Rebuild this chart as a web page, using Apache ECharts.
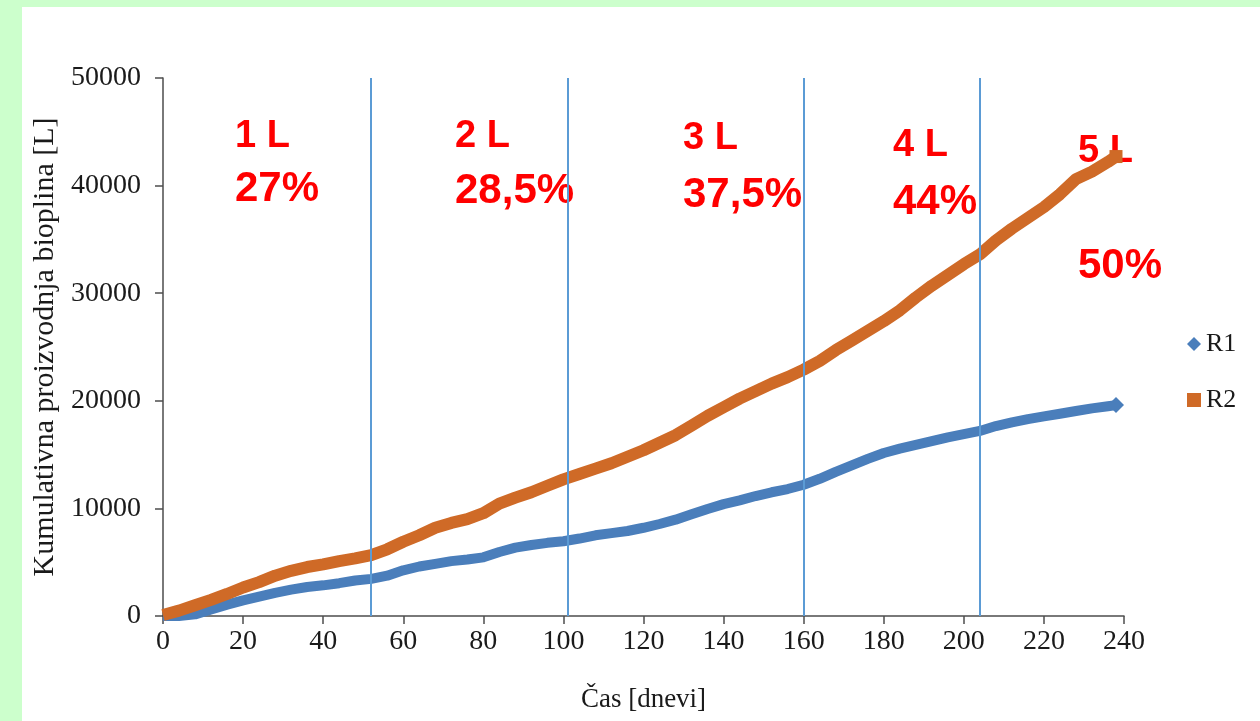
<!DOCTYPE html>
<html>
<head>
<meta charset="utf-8">
<script src="https://cdn.jsdelivr.net/npm/echarts@6/dist/echarts.min.js"></script>
<style>
  html, body { margin: 0; padding: 0; width: 1260px; height: 721px; background: #ccffcc; overflow: hidden; }
  #chart { position: absolute; left: 22px; top: 7px; width: 1238px; height: 714px; background: #ffffff; }
</style>
</head>
<body>
<div id="chart"></div>
<script>
// Sampling days (dnevi)
const days = [0, 4, 8, 12, 16, 20, 24, 28, 32, 36, 40, 44, 48, 52, 56, 60, 64, 68, 72, 76,
  80, 84, 88, 92, 96, 100, 104, 108, 112, 116, 120, 124, 128, 132, 136, 140, 144, 148, 152, 156,
  160, 164, 168, 172, 176, 180, 184, 188, 192, 196, 200, 204, 208, 212, 216, 220, 224, 228, 232, 236, 238];

// Cumulative biogas production [L], reactor R1
const r1 = [0, 0, 150, 600, 1050, 1450, 1800, 2150, 2450, 2700, 2850, 3050, 3300, 3450, 3750, 4250, 4600, 4850, 5100, 5250,
  5450, 5950, 6350, 6600, 6800, 6950, 7200, 7500, 7700, 7900, 8200, 8550, 8950, 9450, 9950, 10400, 10750, 11150, 11500, 11800,
  12200, 12750, 13400, 14000, 14600, 15150, 15550, 15900, 16250, 16600, 16900, 17200, 17650, 18000, 18300, 18550, 18800, 19050, 19300, 19500, 19600];

// Cumulative biogas production [L], reactor R2
const r2 = [100, 500, 1000, 1500, 2050, 2650, 3150, 3750, 4200, 4550, 4800, 5100, 5350, 5650, 6200, 6900, 7500, 8200, 8650, 9000,
  9550, 10450, 11000, 11500, 12100, 12700, 13200, 13700, 14200, 14800, 15400, 16100, 16800, 17700, 18600, 19400, 20200, 20900, 21600, 22200,
  22900, 23700, 24700, 25600, 26500, 27400, 28400, 29600, 30700, 31700, 32700, 33600, 34900, 36000, 37000, 38000, 39200, 40600, 41300, 42200, 42700];

// Days at which the loading was changed
const phaseBounds = [52, 101, 160, 204];

// Loading / share labels for each phase
const phaseLoads = ['1 L', '2 L', '3 L', '4 L', '5 L'];
const phaseShares = ['27%', '28,5%', '37,5%', '44%', '50%'];

const xTicks = { min: 0, max: 240, interval: 20 };
const yTicks = { min: 0, max: 50000, interval: 10000 };

const serif = '"Liberation Serif", "Times New Roman", serif';
const axisColor = '#4d4d4d';
const textColor = '#1a1a1a';

function buildSeries(ys, endSymbol, endSize) {
  return days.map((d, i) => {
    if (i === days.length - 1) {
      return { value: [d, ys[i]], symbol: endSymbol, symbolSize: endSize };
    }
    return { value: [d, ys[i]], symbol: 'none' };
  });
}

const chart = echarts.init(document.getElementById('chart'), null, { renderer: 'canvas' });

// Pixel placement of the phase annotations inside the white panel
const labelLeft = [213, 433, 661, 871, 1056];
const loadTop = [111, 111, 113, 120, 126];
const shareTop = [161, 163, 167, 174, 238];

const graphics = [];
phaseLoads.forEach((t, i) => {
  graphics.push({
    type: 'text', left: labelLeft[i], top: loadTop[i],
    style: { text: t, fill: '#ff0000', font: 'bold 38px "Liberation Sans", Arial, sans-serif' }
  });
  graphics.push({
    type: 'text', left: labelLeft[i], top: shareTop[i],
    style: { text: phaseShares[i], fill: '#ff0000', font: 'bold 42px "Liberation Sans", Arial, sans-serif' }
  });
});

chart.setOption({
  animation: false,
  backgroundColor: '#ffffff',
  grid: { left: 141, top: 71, right: 136, bottom: 105, containLabel: false, outerBoundsMode: 'none' },
  legend: {
    orient: 'vertical',
    left: 1160,
    top: 319,
    itemGap: 30,
    itemWidth: 14,
    itemHeight: 14,
    textStyle: { fontFamily: serif, fontSize: 26, color: textColor },
    data: [
      { name: 'R1', icon: 'diamond' },
      { name: 'R2', icon: 'rect' }
    ]
  },
  xAxis: {
    type: 'value',
    min: xTicks.min, max: xTicks.max, interval: xTicks.interval,
    name: 'Čas [dnevi]',
    nameLocation: 'middle',
    nameGap: 70,
    nameTextStyle: { fontFamily: serif, fontSize: 27, color: textColor },
    axisLine: { show: true, lineStyle: { color: axisColor, width: 1.5 } },
    axisTick: { show: true, inside: false, length: 8, lineStyle: { color: axisColor, width: 1.5 } },
    axisLabel: { fontFamily: serif, fontSize: 28, color: textColor, margin: 12 },
    splitLine: { show: false }
  },
  yAxis: {
    type: 'value',
    min: yTicks.min, max: yTicks.max, interval: yTicks.interval,
    name: 'Kumulativna proizvodnja bioplina [L]',
    nameLocation: 'middle',
    nameGap: 100,
    nameTextStyle: { fontFamily: serif, fontSize: 30, color: textColor },
    axisLine: { show: true, lineStyle: { color: axisColor, width: 1.5 } },
    axisTick: { show: true, inside: false, length: 8, lineStyle: { color: axisColor, width: 1.5 } },
    axisLabel: { fontFamily: serif, fontSize: 28, color: textColor, margin: 22, formatter: v => String(v) },
    splitLine: { show: false }
  },
  graphic: graphics,
  series: [
    {
      name: 'phases',
      type: 'line',
      data: [],
      z: 1,
      silent: true,
      markLine: {
        silent: true,
        symbol: ['none', 'none'],
        label: { show: false },
        lineStyle: { color: '#5b9bd5', width: 2, type: 'solid' },
        data: phaseBounds.map(d => ({ xAxis: d }))
      }
    },
    {
      name: 'R1',
      type: 'line',
      z: 3,
      showSymbol: true,
      itemStyle: { color: '#4a7ebb' },
      lineStyle: { color: '#4a7ebb', width: 10, join: 'round' },
      data: buildSeries(r1, 'diamond', 16)
    },
    {
      name: 'R2',
      type: 'line',
      z: 4,
      showSymbol: true,
      itemStyle: { color: '#cf6a27' },
      lineStyle: { color: '#cf6a27', width: 12, join: 'round' },
      data: buildSeries(r2, 'rect', 13)
    }
  ]
});
</script>
</body>
</html>
